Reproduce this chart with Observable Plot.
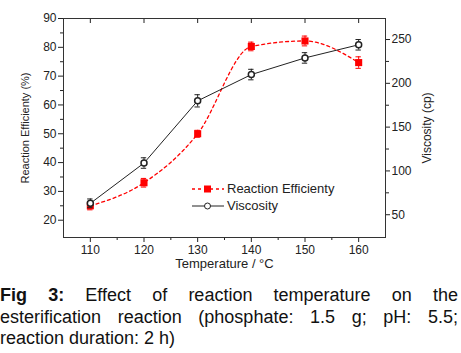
<!DOCTYPE html>
<html><head><meta charset="utf-8">
<script src="https://cdn.jsdelivr.net/npm/d3@7"></script>
<script src="https://cdn.jsdelivr.net/npm/@observablehq/plot@0.6"></script>
<style>
body{margin:0;background:#fff;font-family:"Liberation Sans",Arial,sans-serif;}
#wrap{position:relative;width:461px;}
#chart svg{display:block;}
.legend{position:absolute;left:191px;top:180px;font-size:13px;color:#222;}
.row{display:flex;align-items:center;height:17px;}
.row svg{margin-right:2px;}
.caption{font-size:18px;line-height:21.5px;color:#111;width:458px;padding-top:5px;}
.caption div{text-align:justify;text-align-last:justify;white-space:nowrap;}
.caption div.last{text-align-last:left;}
</style></head><body>
<div id="wrap">
<div id="chart"></div>
<div class="legend">
  <div class="row"><svg width="34" height="12"><line x1="1" y1="6" x2="33" y2="6" stroke="#f00" stroke-width="1.3" stroke-dasharray="3,3"/><rect x="13" y="2.5" width="7" height="7" fill="#f00"/></svg><span>Reaction Efficienty</span></div>
  <div class="row"><svg width="34" height="12"><line x1="1" y1="6" x2="33" y2="6" stroke="#222" stroke-width="1"/><circle cx="16.5" cy="6" r="3" fill="#fff" stroke="#222"/></svg><span>Viscosity</span></div>
</div>
</div>
<div class="caption">
  <div><b>Fig 3:</b> Effect of reaction temperature on the</div>
  <div>esterification reaction (phosphate: 1.5 g; pH: 5.5;</div>
  <div class="last">reaction duration: 2 h)</div>
</div>
<script>
const temperature = [110, 120, 130, 140, 150, 160];
const efficiency = [25, 33, 50, 80.3, 82.2, 74.7];
const efficiencyErr = [1.4, 1.5, 1.2, 1.5, 1.7, 2.0];
const viscosity = [63, 109, 180, 210, 229, 244];
const viscosityErr = [5, 6, 7, 6, 6, 6];
const xTicks = [110, 120, 130, 140, 150, 160];
const xMinor = [115, 125, 135, 145, 155];
const effTicks = [20, 30, 40, 50, 60, 70, 80, 90];
const effMinor = [25, 35, 45, 55, 65, 75, 85];
const viscTicks = [50, 100, 150, 200, 250];
const viscMinor = [75, 125, 175, 225];
const effDomain = [14, 90];
const viscDomain = [24, 274];
const xDomain = [105, 165];

const toLeft = v => effDomain[0] + (v - viscDomain[0]) * (effDomain[1] - effDomain[0]) / (viscDomain[1] - viscDomain[0]);
const fromLeft = y => viscDomain[0] + (y - effDomain[0]) * (viscDomain[1] - viscDomain[0]) / (effDomain[1] - effDomain[0]);

const effData = temperature.map((t, i) => ({t, e: efficiency[i], err: efficiencyErr[i]}));
const viscData = temperature.map((t, i) => ({t, v: toLeft(viscosity[i]), lo: toLeft(viscosity[i] - viscosityErr[i]), hi: toLeft(viscosity[i] + viscosityErr[i])}));
const capHalf = 0.5;
const red = "#f00", dark = "#222";

const chart = Plot.plot({
  width: 461, height: 280,
  marginLeft: 63, marginRight: 76, marginTop: 18, marginBottom: 43,
  style: {fontFamily: "Liberation Sans, Arial, sans-serif", color: "#222", background: "#fff"},
  x: {domain: xDomain},
  y: {domain: effDomain},
  marks: [
    Plot.axisX({ticks: xTicks, tickSize: 5, tickPadding: 3, fontSize: 12, label: null}),
    Plot.axisX({ticks: xMinor, tickSize: 3, tickFormat: () => "", label: null}),
    Plot.axisX({anchor: "top", ticks: xTicks, tickSize: -4, tickFormat: () => "", label: null}),
    Plot.axisY({ticks: effTicks, tickSize: 5, tickPadding: 2, fontSize: 12, label: null}),
    Plot.axisY({ticks: effMinor, tickSize: 3, tickFormat: () => "", label: null}),
    Plot.axisY({anchor: "right", ticks: viscTicks.map(toLeft), tickFormat: y => Math.round(fromLeft(y)), tickSize: 4, tickPadding: 2, fontSize: 12, label: null}),
    Plot.axisY({anchor: "right", ticks: viscMinor.map(toLeft), tickSize: 3, tickFormat: () => "", label: null}),
    Plot.frame({stroke: "#333"}),
    Plot.text(["Reaction Efficienty (%)"], {frameAnchor: "left", textAnchor: "middle", dx: -38, rotate: -90, fontSize: 11, fill: "#222"}),
    Plot.text(["Viscosity (cp)"], {frameAnchor: "right", textAnchor: "middle", dx: 42, rotate: -90, fontSize: 12, fill: "#222"}),
    Plot.text(["Temperature / °C"], {frameAnchor: "bottom", textAnchor: "middle", dy: 30, fontSize: 13, fill: "#222"}),
    Plot.line(effData, {x: "t", y: "e", stroke: red, strokeWidth: 1.3, strokeDasharray: "3,3", curve: "monotone-x"}),
    Plot.ruleX(effData, {x: "t", y1: d => d.e - d.err, y2: d => d.e + d.err, stroke: red}),
    Plot.ruleY(effData, {y: d => d.e - d.err, x1: d => d.t - capHalf, x2: d => d.t + capHalf, stroke: red}),
    Plot.ruleY(effData, {y: d => d.e + d.err, x1: d => d.t - capHalf, x2: d => d.t + capHalf, stroke: red}),
    Plot.dot(effData, {x: "t", y: "e", symbol: "square", r: 4, fill: red}),
    Plot.line(viscData, {x: "t", y: "v", stroke: dark, strokeWidth: 1}),
    Plot.ruleX(viscData, {x: "t", y1: "lo", y2: "hi", stroke: dark}),
    Plot.ruleY(viscData, {y: "lo", x1: d => d.t - capHalf, x2: d => d.t + capHalf, stroke: dark}),
    Plot.ruleY(viscData, {y: "hi", x1: d => d.t - capHalf, x2: d => d.t + capHalf, stroke: dark}),
    Plot.dot(viscData, {x: "t", y: "v", r: 3, fill: "#fff", stroke: dark})
  ]
});
document.getElementById("chart").appendChild(chart);
</script>
</body></html>
